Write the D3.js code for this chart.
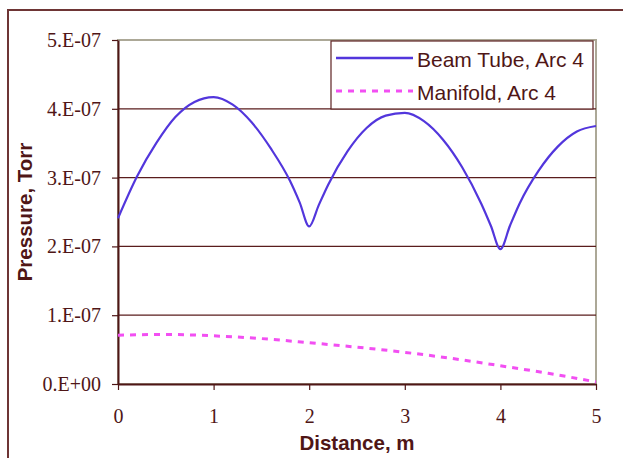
<!DOCTYPE html>
<html>
<head>
<meta charset="utf-8">
<script src="https://cdn.jsdelivr.net/npm/d3@7"></script>
<style>
  body { margin: 0; background: #fff; }
  svg { display: block; }
</style>
</head>
<body>
<script>
// distance along arc, m
const beamX = [0, 0.2, 0.4, 0.6, 0.8, 1.0, 1.2, 1.4, 1.6, 1.8, 1.9, 2.0, 2.1, 2.2, 2.4, 2.6, 2.8, 3.0,
               3.2, 3.4, 3.6, 3.8, 3.9, 4.0, 4.1, 4.2, 4.4, 4.6, 4.8, 5.0];
// beam tube pressure, Torr
const beamP = [2.41e-7, 3.02e-7, 3.50e-7, 3.88e-7, 4.10e-7, 4.17e-7, 4.06e-7, 3.80e-7, 3.42e-7, 2.95e-7, 2.64e-7, 2.29e-7,
               2.60e-7, 2.90e-7, 3.38e-7, 3.72e-7, 3.90e-7, 3.94e-7, 3.82e-7, 3.55e-7, 3.15e-7, 2.62e-7, 2.30e-7, 1.96e-7,
               2.30e-7, 2.62e-7, 3.10e-7, 3.45e-7, 3.67e-7, 3.75e-7];

const manifoldX = [0, 0.5, 1.0, 1.5, 2.0, 2.5, 3.0, 3.5, 4.0, 4.5, 5.0];
const manifoldP = [0.71e-7, 0.72e-7, 0.70e-7, 0.66e-7, 0.60e-7, 0.535e-7, 0.46e-7, 0.37e-7, 0.265e-7, 0.155e-7, 0.03e-7];

const seriesNames = ['Beam Tube, Arc 4', 'Manifold, Arc 4'];

const xTicks = [0, 1, 2, 3, 4, 5];
const yTicks = [0, 1e-7, 2e-7, 3e-7, 4e-7, 5e-7];
const yTickLabels = ['0.E+00', '1.E-07', '2.E-07', '3.E-07', '4.E-07', '5.E-07'];

const width = 623, height = 458;
const plot = { left: 118, right: 596, top: 40, bottom: 384 };
const ink = '#4f1616';
const gridColor = '#5a1c1c';

const svg = d3.select('body').append('svg')
    .attr('width', width)
    .attr('height', height);

// outer chart frame (cropped on right and bottom)
svg.append('path')
    .attr('d', `M8,${height} V10 H${width}`)
    .attr('fill', 'none')
    .attr('stroke', '#6e3535')
    .attr('stroke-width', 2);

const x = d3.scaleLinear().domain([0, 5]).range([plot.left, plot.right]);
const y = d3.scaleLinear().domain([0, 5e-7]).range([plot.bottom, plot.top]);

// plot area border
svg.append('rect')
    .attr('x', plot.left)
    .attr('y', plot.top)
    .attr('width', plot.right - plot.left)
    .attr('height', plot.bottom - plot.top)
    .attr('fill', 'none')
    .attr('stroke', '#aca897')
    .attr('stroke-width', 2);

// gridlines
svg.append('g')
    .selectAll('line')
    .data(yTicks.slice(1, -1))
    .enter().append('line')
    .attr('x1', plot.left)
    .attr('x2', plot.right)
    .attr('y1', d => y(d))
    .attr('y2', d => y(d))
    .attr('stroke', gridColor)
    .attr('stroke-width', 1.2);

// axes
const yAxis = d3.axisLeft(y)
    .tickValues(yTicks)
    .tickFormat((d, i) => yTickLabels[i])
    .tickSize(6)
    .tickSizeOuter(0)
    .tickPadding(11);

const xAxis = d3.axisBottom(x)
    .tickValues(xTicks)
    .tickFormat(d => d)
    .tickSize(6)
    .tickSizeOuter(0)
    .tickPadding(19);

function styleAxis(g) {
    g.select('.domain').attr('stroke', ink).attr('stroke-width', 2);
    g.selectAll('.tick line').attr('stroke', ink).attr('stroke-width', 1.2);
    g.selectAll('.tick text')
        .attr('fill', ink)
        .style('font-family', '"Liberation Serif", "Times New Roman", serif')
        .style('font-size', '20px');
}

svg.append('g')
    .attr('transform', `translate(${plot.left},0)`)
    .call(yAxis)
    .call(styleAxis);

svg.append('g')
    .attr('transform', `translate(0,${plot.bottom})`)
    .call(xAxis)
    .call(styleAxis);

// axis titles
svg.append('text')
    .attr('x', (plot.left + plot.right) / 2)
    .attr('y', 450)
    .attr('text-anchor', 'middle')
    .attr('fill', ink)
    .style('font-family', '"Liberation Sans", Arial, sans-serif')
    .style('font-weight', 'bold')
    .style('font-size', '20.5px')
    .text('Distance, m');

svg.append('text')
    .attr('transform', `translate(32,${(plot.top + plot.bottom) / 2}) rotate(-90)`)
    .attr('text-anchor', 'middle')
    .attr('fill', ink)
    .style('font-family', '"Liberation Sans", Arial, sans-serif')
    .style('font-weight', 'bold')
    .style('font-size', '20.5px')
    .text('Pressure, Torr');

// series
const line = d3.line()
    .x(d => x(d[0]))
    .y(d => y(d[1]))
    .curve(d3.curveMonotoneX);

const beamData = beamX.map((v, i) => [v, beamP[i]]);
const manifoldData = manifoldX.map((v, i) => [v, manifoldP[i]]);

svg.append('path')
    .datum(manifoldData)
    .attr('d', line)
    .attr('fill', 'none')
    .attr('stroke', '#f24ff2')
    .attr('stroke-width', 3)
    .attr('stroke-dasharray', '6,6');

svg.append('path')
    .datum(beamData)
    .attr('d', line)
    .attr('fill', 'none')
    .attr('stroke', '#5236dc')
    .attr('stroke-width', 2.2);

// legend
const legend = svg.append('g');
legend.append('rect')
    .attr('x', 331)
    .attr('y', 41)
    .attr('width', 262)
    .attr('height', 68)
    .attr('fill', '#fff')
    .attr('stroke', '#5e2222')
    .attr('stroke-width', 1.2);

const legendItems = [
    { name: seriesNames[0], color: '#5236dc', dash: null, width: 2.6, y: 58 },
    { name: seriesNames[1], color: '#f24ff2', dash: '6,6', width: 3, y: 91 }
];

legendItems.forEach(d => {
    legend.append('line')
        .attr('x1', 336)
        .attr('x2', 413)
        .attr('y1', d.y)
        .attr('y2', d.y)
        .attr('stroke', d.color)
        .attr('stroke-width', d.width)
        .attr('stroke-dasharray', d.dash);
    legend.append('text')
        .attr('x', 417)
        .attr('y', d.y + 8.5)
        .attr('fill', ink)
        .style('font-family', '"Liberation Sans", Arial, sans-serif')
        .style('font-size', '21px')
        .text(d.name);
});
</script>
</body>
</html>
